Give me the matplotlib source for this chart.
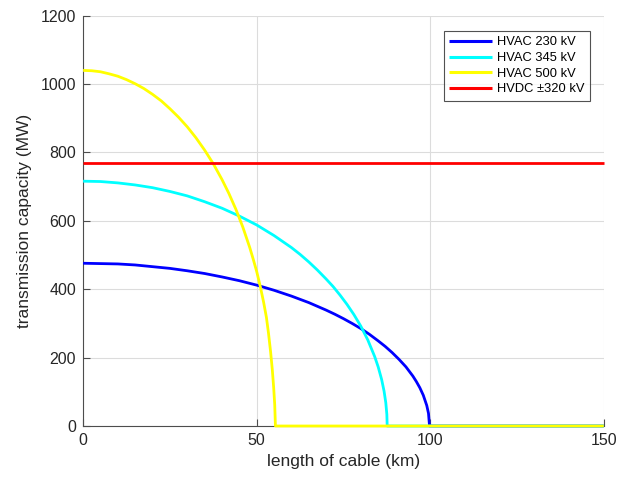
import matplotlib
matplotlib.use("Agg")
import matplotlib.pyplot as plt

# ---- data ----
len_230 = [0, 5, 10, 15, 20, 25, 30, 35, 40, 45, 50, 55, 60, 65, 70, 72.5, 75, 77.5, 80,
           82.5, 85, 87, 89, 91, 93, 95, 96, 97, 98, 99, 99.5, 99.8, 150]
cap_230 = [476, 475, 474, 471, 466, 461, 454, 446, 436, 425, 412, 397, 380, 361, 339, 327, 314, 300, 285,
           268, 249, 233, 215, 195, 173, 146, 130, 112, 90, 60, 37, 0, 0]

len_345 = [0, 5, 10, 15, 20, 25, 30, 35, 40, 45, 50, 55, 60, 62.5, 65, 67.5, 70, 72, 74, 76, 78,
           80, 82, 84, 85, 86, 86.7, 87.2, 87.5, 87.6, 150]
cap_345 = [716, 715, 711, 705, 697, 686, 673, 656, 637, 614, 588, 557, 522, 502, 480, 456, 430, 408, 383, 356, 326,
           292, 252, 203, 173, 136, 102, 68, 34, 0, 0]

len_500 = [0, 2.5, 5, 7.5, 10, 12.5, 15, 17.5, 20, 22.5, 25, 27.5, 30, 32.5, 35, 37.5, 40, 42, 44, 46,
           48, 49, 50, 51, 52, 52.8, 53.4, 54, 54.5, 54.9, 55.2, 55.4, 150]
cap_500 = [1040, 1039, 1036, 1030, 1023, 1013, 1001, 987, 970, 951, 928, 903, 875, 843, 807, 767, 721, 680, 634, 582,
           522, 488, 452, 410, 362, 318, 272, 218, 165, 112, 62, 0, 0]

len_dc = [0, 150]
cap_dc = [768, 768]

series_labels = ["HVAC 230 kV", "HVAC 345 kV", "HVAC 500 kV", "HVDC \u00b1320 kV"]
series_colors = ["#0000ff", "#00ffff", "#ffff00", "#ff0000"]

x_ticks = [0, 50, 100, 150]
y_ticks = [0, 200, 400, 600, 800, 1000, 1200]

plt.rcParams['font.family'] = ['Liberation Sans', 'DejaVu Sans']

fig = plt.figure(figsize=(6.18, 4.83), dpi=100)
ax = fig.add_axes([0.1345, 0.118, 0.8425, 0.8495])

data = [(len_230, cap_230), (len_345, cap_345), (len_500, cap_500), (len_dc, cap_dc)]
for (xs, ys), lab, col in zip(data, series_labels, series_colors):
    ax.plot(xs, ys, color=col, lw=2.0, label=lab, solid_joinstyle='round',
            solid_capstyle='butt', clip_on=False, zorder=3)

ax.set_xlim(0, 150)
ax.set_ylim(0, 1200)
ax.set_xticks(x_ticks)
ax.set_yticks(y_ticks)
ax.grid(True, color='#dcdcdc', lw=0.8)
ax.set_axisbelow(True)
for s in ['top', 'right']:
    ax.spines[s].set_visible(False)
for s in ['left', 'bottom']:
    ax.spines[s].set_color('#4d4d4d')
    ax.spines[s].set_linewidth(0.8)
    ax.spines[s].set_zorder(2)
ax.tick_params(direction='in', length=5, width=0.8, colors='#4d4d4d',
               labelcolor='#262626', labelsize=11.5, pad=5)

ax.set_xlabel("length of cable (km)", fontsize=12.5, color='#262626', labelpad=4)
ax.set_ylabel("transmission capacity (MW)", fontsize=12.5, color='#262626', labelpad=6)

leg = ax.legend(loc='upper right', bbox_to_anchor=(0.973, 0.962), fontsize=9.3,
                frameon=True, fancybox=False, edgecolor='#262626',
                handlelength=3.3, handletextpad=0.4, borderpad=0.4,
                labelspacing=0.28, borderaxespad=0)
leg.get_frame().set_linewidth(0.8)
leg.set_zorder(5)
for line in leg.get_lines():
    line.set_linewidth(2.2)

fig.savefig("out.png", dpi=100)
